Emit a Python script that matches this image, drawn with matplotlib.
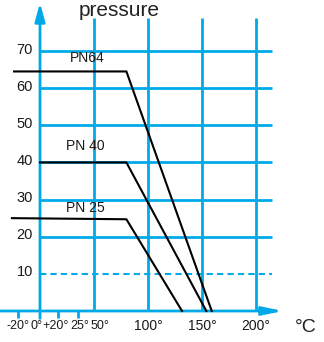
import matplotlib
matplotlib.use("Agg")
import matplotlib.pyplot as plt

# pressure / temperature curves (temperature in deg C, pressure in bar)
t_pn64 = [-24, 80, 159]
p_pn64 = [64.5, 64.5, 0]
t_pn40 = [0, 80, 154]
p_pn40 = [40, 40, 0]
t_pn25 = [-26, 80, 131.5]
p_pn25 = [25, 24.7, 0]

series_names = ["PN64", "PN 40", "PN 25"]
label_pos = [(43.5, 66.3), (42, 42.5), (42, 25.8)]

y_grid = [20, 30, 40, 50, 60, 70]
y_dashed = 10
y_ticks = [10, 20, 30, 40, 50, 60, 70]
x_grid = [50, 100, 150, 200]
x_minor_ticks = [-20, 17, 35]
x_tick_labels = ["-20°", "0°", "+20°", "25°", "50°", "100°", "150°", "200°"]
# label centres are crowded on the left, so they are nudged apart
x_label_pos = [-20.8, -3.7, 14.8, 36.6, 55.1, 100, 150, 200]
x_label_size = [9, 9, 9, 9, 9, 10, 10, 10]

blue = "#00aae9"
txt = "#1a1a1a"
sans = ["Liberation Sans", "DejaVu Sans"]

fig = plt.figure(figsize=(3.24, 3.42), dpi=100)
ax = fig.add_axes([0, 0, 1, 1])
ax.set_xlim(-37.04, 262.96)
ax.set_ylim(-8.35, 83.74)
ax.axis("off")

# grid
for y in y_grid:
    ax.plot([0, 215], [y, y], color=blue, lw=2, solid_capstyle="butt", zorder=1)
ax.plot([0, 215], [y_dashed, y_dashed], color=blue, lw=1.5, ls=(0, (3, 2)), zorder=1)
for x in x_grid:
    ax.plot([x, x], [0, 79], color=blue, lw=2, solid_capstyle="butt", zorder=1)

# axes with arrows
ax.annotate("", xy=(0, 83), xytext=(0, -2),
            arrowprops=dict(arrowstyle="-|>,head_length=1.1,head_width=0.3",
                            color=blue, lw=2, shrinkA=0, shrinkB=0))
ax.annotate("", xy=(225, 0), xytext=(-37, 0),
            arrowprops=dict(arrowstyle="-|>,head_length=1.2,head_width=0.25",
                            color=blue, lw=2, shrinkA=0, shrinkB=0))
for x in x_minor_ticks:
    ax.plot([x, x], [0, -2], color=blue, lw=2, solid_capstyle="butt", zorder=1)

# curves
for t, p in [(t_pn64, p_pn64), (t_pn40, p_pn40), (t_pn25, p_pn25)]:
    ax.plot(t, p, color="black", lw=1.5, zorder=3)

for name, (x, y) in zip(series_names, label_pos):
    ax.text(x, y, name, ha="center", va="bottom", fontsize=10,
            family=sans, color=txt)

# tick labels
for y in y_ticks:
    ax.text(-6.5, y + 0.4, str(y), ha="right", va="center", fontsize=10.5,
            family=sans, color=txt)
for x, lab, fs in zip(x_label_pos, x_tick_labels, x_label_size):
    ax.text(x, -4.0, lab, ha="center", va="center", fontsize=fs,
            family=sans, color=txt)

ax.text(73, 80.8, "pressure", ha="center", va="center", fontsize=15,
        family=sans, color="#222222")
ax.text(246, -4.4, "°C", ha="center", va="center", fontsize=14,
        family=sans, color="#222222")

fig.savefig("out.png", dpi=100)
